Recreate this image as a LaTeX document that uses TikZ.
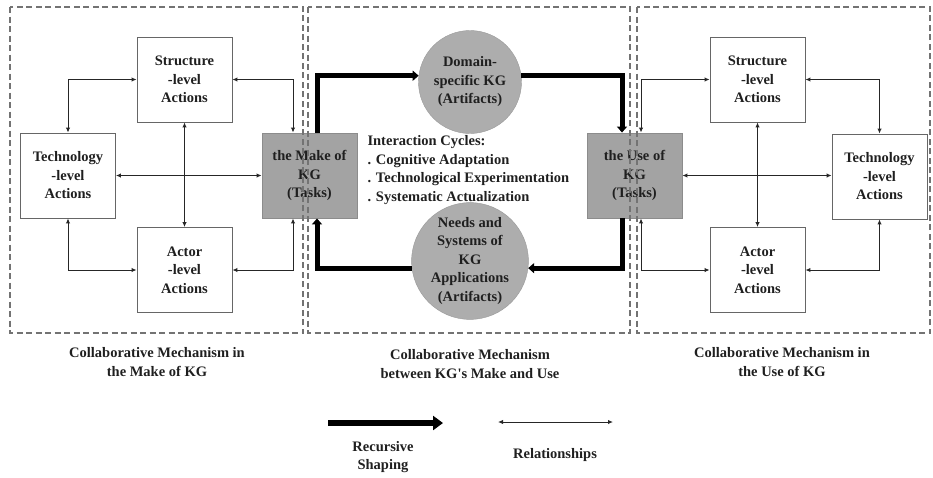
\documentclass[tikz,border=0pt]{standalone}
\usepackage{fontspec}
\setmainfont{Liberation Serif}
\usetikzlibrary{arrows.meta}
\begin{document}
\begin{tikzpicture}[x=1pt,y=-1pt,
  txt/.style={font=\fontsize{14.5}{18.5}\selectfont\bfseries, text=black!88, align=center},
  wbox/.style={txt, draw=black!60, line width=0.9pt, fill=white, minimum width=95pt, minimum height=85pt, inner sep=0pt},
  gbox/.style={wbox, fill=black!36, draw=black!45},
  gcirc/.style={txt, circle, fill=black!32, draw=black!40, minimum size=103pt, inner sep=0pt},
  rel/.style={black!85, line width=1pt, {Latex[length=5pt,width=4.5pt]}-{Latex[length=5pt,width=4.5pt]}},
  rec/.style={black, line width=5pt, -{Triangle[length=6pt,width=10pt]}},
  legrec/.style={black, line width=5.5pt, -{Triangle[length=10pt,width=14pt]}},
  frame/.style={draw=black!55, dash pattern=on 6pt off 3.5pt, line width=1.1pt},
]
\useasboundingbox (0,0) rectangle (933,477);

% left cluster
\node[wbox] (lstr) at (184.5,79.5) {Structure\\-level\\Actions};
\node[wbox] (ltech) at (68,175.5) {Technology\\-level\\Actions};
\node[wbox] (lact) at (184.5,270) {Actor\\-level\\Actions};
\node[gbox] (make) at (309.5,175.5) {the Make of\\KG\\(Tasks)};

% right cluster
\node[gbox] (use) at (634.5,175.5) {the Use of\\KG\\(Tasks)};
\node[wbox] (rstr) at (757.5,79.5) {Structure\\-level\\Actions};
\node[wbox] (rtech) at (879.5,176.5) {Technology\\-level\\Actions};
\node[wbox] (ract) at (757.5,270) {Actor\\-level\\Actions};

% circles
\node[gcirc] (dom) at (470,82) {Domain-\\specific KG\\(Artifacts)};
\node[gcirc] (needs) at (470,261) {Needs and\\Systems of\\KG\\Applications\\(Artifacts)};

% interaction text
\node[txt, anchor=west, align=left] (inter) at (364,170) {Interaction Cycles:\\. Cognitive Adaptation\\. Technological Experimentation\\. Systematic Actualization};

% left relations
\draw[rel] (ltech.north) |- (lstr.west);
\draw[rel] (lstr.east) -| ([xshift=-16.5pt]make.north);
\draw[rel] (ltech.south) |- (lact.west);
\draw[rel] (lact.east) -| ([xshift=-16.5pt]make.south);
\draw[rel] (lstr.south) -- (lact.north);
\draw[rel] (ltech.east) -- (make.west);

% right relations
\draw[rel] ([xshift=6.5pt]use.north) |- (rstr.west);
\draw[rel] (rstr.east) -| (rtech.north);
\draw[rel] ([xshift=6.5pt]use.south) |- (ract.west);
\draw[rel] (ract.east) -| (rtech.south);
\draw[rel] (rstr.south) -- (ract.north);
\draw[rel] (use.east) -- (use.east -| rtech.west);

% recursive shaping cycle
\draw[rec] ([xshift=7.5pt]make.north) |- (dom.173);
\draw[rec] (dom.7) -| ([xshift=-12.5pt]use.north);
\draw[rec] ([xshift=-12.5pt]use.south) |- (needs.353);
\draw[rec] (needs.187) -| ([xshift=7.5pt]make.south);

% dashed frames
\draw[frame] (10,7) rectangle (303,333);
\draw[frame] (308,7) rectangle (630,333);
\draw[frame] (637,7) rectangle (930,333);

% captions
\node[txt] (capl) at (157,362) {Collaborative Mechanism in\\the Make of KG};
\node[txt] (capm) at (470,364) {Collaborative Mechanism\\between KG\textquotesingle s Make and Use};
\node[txt] (capr) at (782,362) {Collaborative Mechanism in\\the Use of KG};

% legend
\coordinate (la) at (328,423);
\coordinate (lb) at (443,423);
\coordinate (lc) at (498,422);
\coordinate (ld) at (613,422);
\draw[legrec] (la) -- (lb);
\draw[rel] (lc) -- (ld);
\node[txt] (legrect) at (383,457) {Recursive\\Shaping};
\node[txt] (legrelt) at (555,455) {Relationships};
\end{tikzpicture}
\end{document}
